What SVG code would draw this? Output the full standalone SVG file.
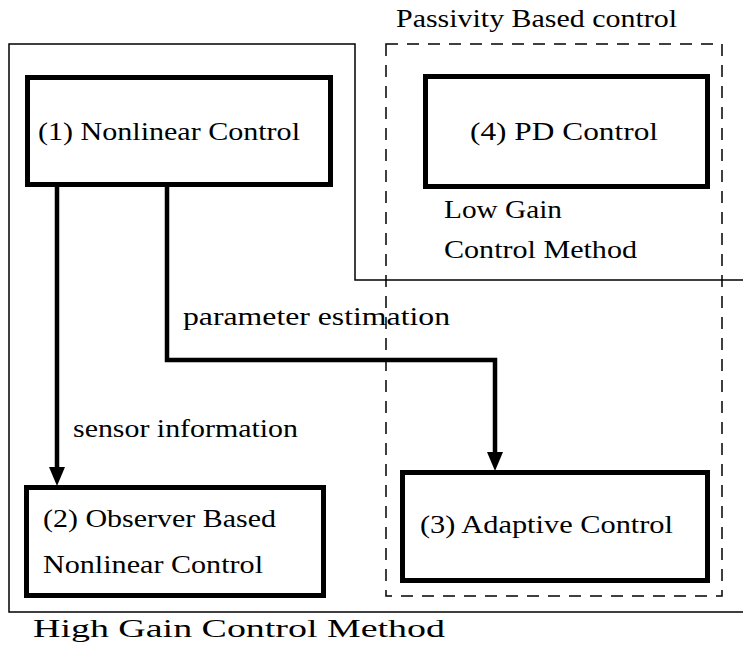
<svg xmlns="http://www.w3.org/2000/svg" width="743" height="651" viewBox="0 0 743 651">
<style>
text{font-family:"Liberation Serif","Times New Roman",serif;font-size:25px;fill:#000}
.node{fill:#fff;stroke:#000;stroke-width:5}
.conn{fill:none;stroke:#000;stroke-width:4.5}
.head{fill:#000}
</style>
<rect width="743" height="651" fill="#fff"/>
<g id="high-gain-region">
<path d="M743,280 L355,280 L355,44 L9,44 L9,612 L743,612" fill="none" stroke="#000" stroke-width="1.5"/>
<text x="33" y="637" textLength="412" lengthAdjust="spacingAndGlyphs">High Gain Control Method</text>
</g>
<g id="passivity-region">
<rect x="386" y="44" width="336" height="552" fill="none" stroke="#000" stroke-width="1.5" stroke-dasharray="12,9"/>
<text x="396" y="27" textLength="281" lengthAdjust="spacingAndGlyphs">Passivity Based control</text>
<text x="444" y="218" textLength="118" lengthAdjust="spacingAndGlyphs">Low Gain</text>
<text x="444" y="258" textLength="193" lengthAdjust="spacingAndGlyphs">Control Method</text>
</g>
<g id="connectors">
<path class="conn" d="M57,187 L57,470"/>
<polygon class="head" points="49,467 65,467 57,486"/>
<path class="conn" d="M167,187 L167,360 L495,360 L495,455"/>
<polygon class="head" points="487,452 503,452 495,471"/>
<text x="73" y="437" textLength="225" lengthAdjust="spacingAndGlyphs">sensor information</text>
<text x="183" y="325" textLength="267" lengthAdjust="spacingAndGlyphs">parameter estimation</text>
</g>
<g id="node1">
<rect class="node" x="27.5" y="77.5" width="303" height="107"/>
<text x="38" y="140" textLength="262" lengthAdjust="spacingAndGlyphs">(1) Nonlinear Control</text>
</g>
<g id="node4">
<rect class="node" x="425.5" y="76.5" width="282" height="110"/>
<text x="470" y="140" textLength="188" lengthAdjust="spacingAndGlyphs">(4) PD Control</text>
</g>
<g id="node2">
<rect class="node" x="26.5" y="487.5" width="297" height="108"/>
<text x="43" y="527" textLength="233" lengthAdjust="spacingAndGlyphs">(2) Observer Based</text>
<text x="43" y="573" textLength="220" lengthAdjust="spacingAndGlyphs">Nonlinear Control</text>
</g>
<g id="node3">
<rect class="node" x="402.5" y="472.5" width="305" height="108"/>
<text x="420" y="533" textLength="253" lengthAdjust="spacingAndGlyphs">(3) Adaptive Control</text>
</g>
</svg>
